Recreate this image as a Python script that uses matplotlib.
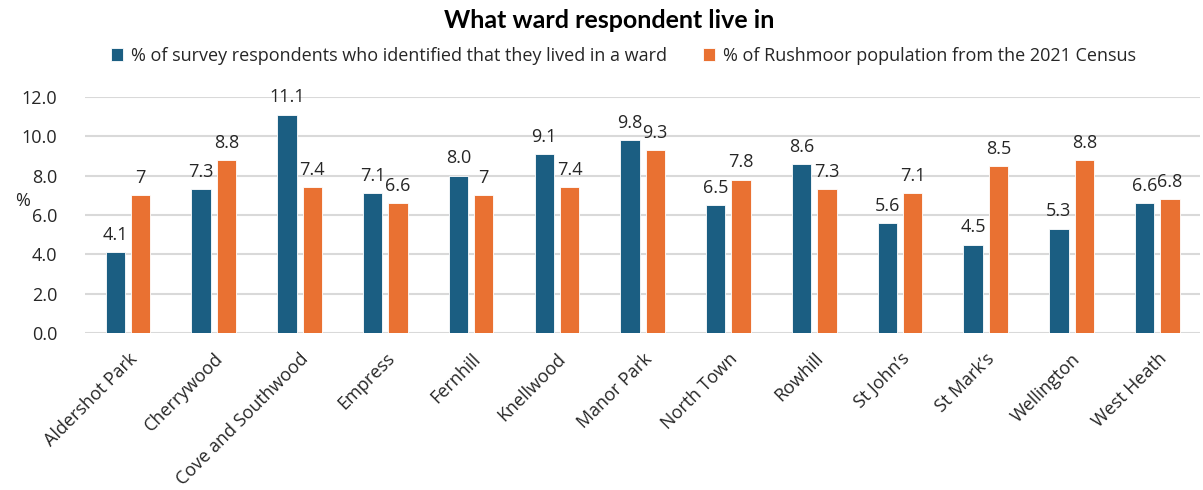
import matplotlib
matplotlib.use("Agg")
import matplotlib.pyplot as plt
import numpy as np

categories = ["Aldershot Park", "Cherrywood", "Cove and Southwood", "Empress", "Fernhill",
              "Knellwood", "Manor Park", "North Town", "Rowhill", "St John\u2019s",
              "St Mark\u2019s", "Wellington", "West Heath"]
survey = [4.1, 7.3, 11.1, 7.1, 8.0, 9.1, 9.8, 6.5, 8.6, 5.6, 4.5, 5.3, 6.6]
census = [7, 8.8, 7.4, 6.6, 7, 7.4, 9.3, 7.8, 7.3, 7.1, 8.5, 8.8, 6.8]
census_labels = ["7", "8.8", "7.4", "6.6", "7", "7.4", "9.3", "7.8", "7.3", "7.1", "8.5", "8.8", "6.8"]
yticks = [0, 2, 4, 6, 8, 10, 12]

plt.rcParams['font.family'] = ['Open Sans', 'DejaVu Sans']

fig = plt.figure(figsize=(12.03, 4.9), dpi=100)
ax = fig.add_axes([0.0707, 0.3204, 0.927, 0.4816])

x = np.arange(len(categories))
w = 0.225
gap = 0.035
blue = "#1B5E82"
orange = "#E97132"
b1 = ax.bar(x - w/2 - gap, survey, w, color=blue, edgecolor="white", linewidth=0.6,
            label="% of survey respondents who identified that they lived in a ward", zorder=3)
b2 = ax.bar(x + w/2 + gap, census, w, color=orange, edgecolor="white", linewidth=0.6,
            label="% of Rushmoor population from the 2021 Census", zorder=3)

for rect, v in zip(b1, survey):
    ax.annotate(f"{v:.1f}", (rect.get_x() + rect.get_width()/2, v), xytext=(0, 6),
                textcoords="offset points", ha="center", va="bottom", fontsize=13, color="#262626")
for rect, v, s in zip(b2, census, census_labels):
    ax.annotate(s, (rect.get_x() + rect.get_width()/2, v), xytext=(0, 6),
                textcoords="offset points", ha="center", va="bottom", fontsize=13, color="#262626")

ax.set_xlim(-0.5, len(categories) - 0.5)
ax.set_ylim(0, 12)
ax.set_yticks(yticks)
ax.set_yticklabels([f"{t:.1f}" for t in yticks], fontsize=13, color="#262626")
ax.set_xticks(x)
ax.set_xticklabels(categories, rotation=45, ha="right", rotation_mode="anchor", fontsize=13, color="#262626")
ax.tick_params(axis="both", length=0)
ax.tick_params(axis="y", pad=20)
ax.tick_params(axis="x", pad=12)
ax.grid(axis="y", color="#D9D9D9", linewidth=1.5, zorder=0)
for s in ax.spines.values():
    s.set_visible(False)
ax.text(-0.056, 0.56, "%", transform=ax.transAxes, ha="center", va="center",
        fontsize=13, color="#262626")

fig.text(0.506, 0.958, "What ward respondent live in", ha="center", va="center",
         fontsize=18, fontweight="bold", family=["Lato", "DejaVu Sans"], color="black")
fig.legend(handles=[b1, b2], loc="center", bbox_to_anchor=(0.518, 0.886), ncol=2, frameon=False,
           fontsize=13, handlelength=0.7, handleheight=0.7, columnspacing=2.0, handletextpad=0.4,
           labelcolor="#262626")

fig.savefig("out.png", dpi=100)
